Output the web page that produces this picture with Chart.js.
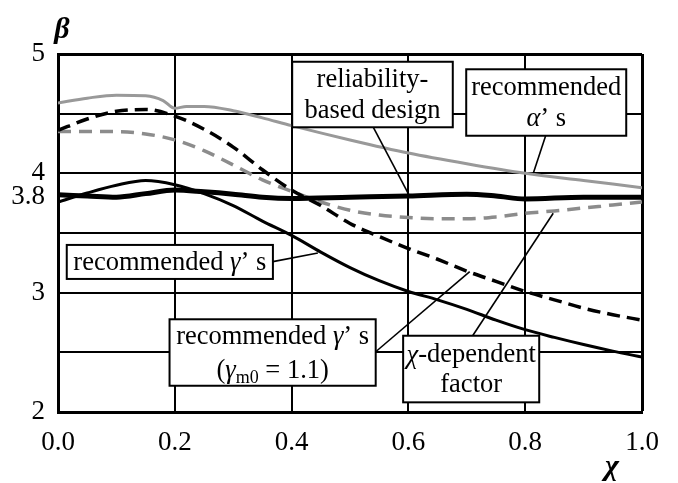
<!DOCTYPE html>
<html>
<head>
<meta charset="utf-8">
<script src="https://cdn.jsdelivr.net/npm/chart.js@4"></script>
<style>
  body { margin: 0; background: #fff; }
  canvas { display: block; }
</style>
</head>
<body>
<canvas id="chart" width="678" height="483"></canvas>
<script>
// x positions (chi) shared by most curves
const chiSteps = [0, 0.05, 0.1, 0.15, 0.2, 0.25, 0.3, 0.35, 0.4, 0.45, 0.5,
  0.55, 0.6, 0.65, 0.7, 0.75, 0.8, 0.85, 0.9, 0.95, 1.0];

// reliability-based design (thick black)
const reliabilityX = [0, 0.05, 0.1, 0.15, 0.2, 0.25, 0.3, 0.35, 0.4, 0.5, 0.6, 0.7, 0.75, 0.8, 0.9, 1.0];
const reliabilityBeta = [3.82, 3.81, 3.80, 3.83, 3.86, 3.845, 3.825, 3.80, 3.79, 3.80, 3.81, 3.825, 3.81, 3.785, 3.80, 3.80];

// recommended gamma's (thin black)
const gammaBeta = [3.76, 3.835, 3.90, 3.94, 3.905, 3.83, 3.73, 3.60, 3.48, 3.34, 3.21,
  3.10, 3.01, 2.94, 2.86, 2.77, 2.69, 2.625, 2.565, 2.51, 2.46];

// recommended gamma's with gamma_m0 = 1.1 (black dashed)
const gamma11Beta = [4.36, 4.455, 4.52, 4.535, 4.48, 4.37, 4.22, 4.03, 3.86, 3.73, 3.58,
  3.47, 3.37, 3.28, 3.18, 3.095, 3.01, 2.94, 2.87, 2.815, 2.77];

// chi-dependent factor (grey dashed)
const chiFactorBeta = [4.35, 4.35, 4.35, 4.33, 4.28, 4.19, 4.07, 3.945, 3.85, 3.76, 3.69,
  3.65, 3.63, 3.62, 3.62, 3.635, 3.665, 3.685, 3.71, 3.735, 3.76];

// recommended alpha's (grey solid)
const alphaX = [0, 0.05, 0.1, 0.15, 0.18, 0.2, 0.22, 0.25, 0.3, 0.35, 0.4, 0.5, 0.6, 0.7, 0.8, 0.9, 1.0];
const alphaBeta = [4.59, 4.63, 4.655, 4.65, 4.61, 4.545, 4.56, 4.56, 4.525, 4.465, 4.40, 4.28, 4.17, 4.08, 4.0, 3.94, 3.88];

// axis ticks
const yTicks = [2, 2.5, 3, 3.5, 3.8, 4, 4.5, 5];
const yLabels = [2, 3, 3.8, 4, 5];

const FONT = '"Liberation Serif", "Times New Roman", serif';
const TEXT_SIZE = 26.5;

function pts(xs, ys) {
  return xs.map((x, i) => ({ x: x, y: ys[i] }));
}

// callout boxes, in data units: box [x1, yTop, x2, yBottom], pointer from -> to
const notes = [
  {
    box: [0.401, 4.935, 0.676, 4.386],
    lines: [[{ t: "reliability-" }], [{ t: "based design" }]],
    from: [0.54, 4.386], to: [0.603, 3.80],
  },
  {
    box: [0.699, 4.872, 0.973, 4.315],
    lines: [[{ t: "recommended" }], [{ t: "α", i: true }, { t: "’ s" }]],
    from: [0.835, 4.315], to: [0.814, 4.003],
  },
  {
    box: [0.015, 3.40, 0.368, 3.115],
    lines: [[{ t: "recommended " }, { t: "γ", i: true }, { t: "’ s" }]],
    from: [0.368, 3.26], to: [0.445, 3.332],
  },
  {
    box: [0.191, 2.777, 0.544, 2.22],
    lines: [
      [{ t: "recommended " }, { t: "γ", i: true }, { t: "’ s" }],
      [{ t: "(" }, { t: "γ", i: true }, { t: "m0", s: 18, dy: 7 }, { t: " = 1.1)" }],
    ],
    gap: 34,
    from: [0.544, 2.505], to: [0.705, 3.176],
  },
  {
    box: [0.591, 2.639, 0.824, 2.081],
    lines: [[{ t: "χ", i: true }, { t: "-dependent" }], [{ t: "factor" }]],
    gap: 30,
    from: [0.71, 2.639], to: [0.848, 3.665],
  },
];

function fontOf(p) {
  return (p.i ? "italic " : "") + (p.s || TEXT_SIZE) + "px " + FONT;
}

function drawRich(ctx, parts, cx, cy) {
  let w = 0;
  parts.forEach((p) => {
    ctx.font = fontOf(p);
    p.w = ctx.measureText(p.t).width;
    w += p.w;
  });
  let x = cx - w / 2;
  parts.forEach((p) => {
    ctx.font = fontOf(p);
    ctx.fillText(p.t, x, cy + (p.dy || 0));
    x += p.w;
  });
}

const calloutPlugin = {
  id: "callouts",
  afterDatasetsDraw(chart) {
    const ctx = chart.ctx;
    const xs = chart.scales.x;
    const ys = chart.scales.y;
    ctx.save();
    ctx.fillStyle = "#000";
    ctx.strokeStyle = "#000";
    ctx.textAlign = "left";
    ctx.textBaseline = "middle";

    notes.forEach((n) => {
      // pointer line
      ctx.lineWidth = 1.6;
      ctx.beginPath();
      ctx.moveTo(xs.getPixelForValue(n.from[0]), ys.getPixelForValue(n.from[1]));
      ctx.lineTo(xs.getPixelForValue(n.to[0]), ys.getPixelForValue(n.to[1]));
      ctx.stroke();

      // box
      const x1 = xs.getPixelForValue(n.box[0]);
      const y1 = ys.getPixelForValue(n.box[1]);
      const x2 = xs.getPixelForValue(n.box[2]);
      const y2 = ys.getPixelForValue(n.box[3]);
      ctx.fillStyle = "#fff";
      ctx.fillRect(x1, y1, x2 - x1, y2 - y1);
      ctx.lineWidth = 2;
      ctx.strokeRect(x1, y1, x2 - x1, y2 - y1);

      // text
      ctx.fillStyle = "#000";
      const gap = n.gap || 31;
      const cx = (x1 + x2) / 2;
      const cy = (y1 + y2) / 2 + 1.5;
      const top = cy - (gap * (n.lines.length - 1)) / 2;
      n.lines.forEach((line, k) => drawRich(ctx, line, cx, top + k * gap));
    });

    // axis symbols
    ctx.font = "italic bold 30px " + FONT;
    ctx.textAlign = "center";
    ctx.fillText("β", 62, 30);
    ctx.fillText("χ", 612, 467);
    ctx.restore();
  },
};

new Chart(document.getElementById("chart"), {
  type: "line",
  data: {
    datasets: [
      {
        label: "reliability-based design",
        data: pts(reliabilityX, reliabilityBeta),
        borderColor: "#000",
        borderWidth: 5,
      },
      {
        label: "recommended γ's",
        data: pts(chiSteps, gammaBeta),
        borderColor: "#000",
        borderWidth: 3,
      },
      {
        label: "recommended γ's (γm0 = 1.1)",
        data: pts(chiSteps, gamma11Beta),
        borderColor: "#000",
        borderWidth: 3.5,
        borderDash: [13, 7],
      },
      {
        label: "χ-dependent factor",
        data: pts(chiSteps, chiFactorBeta),
        borderColor: "#8c8c8c",
        borderWidth: 3.5,
        borderDash: [13, 8],
      },
      {
        label: "recommended α's",
        data: pts(alphaX, alphaBeta),
        borderColor: "#999",
        borderWidth: 3,
      },
    ],
  },
  options: {
    responsive: false,
    animation: false,
    devicePixelRatio: 1,
    layout: { padding: { top: 54, right: 36, left: 0, bottom: 0 } },
    elements: {
      point: { radius: 0 },
      line: { cubicInterpolationMode: "monotone", fill: false },
    },
    plugins: {
      legend: { display: false },
      tooltip: { enabled: false },
    },
    scales: {
      x: {
        type: "linear",
        min: 0,
        max: 1,
        afterFit(scale) {
          scale.height = 71;
        },
        ticks: {
          stepSize: 0.2,
          padding: 15,
          color: "#000",
          font: { family: FONT, size: 27 },
          callback: (v) => v.toFixed(1),
        },
        grid: {
          drawTicks: false,
          color: "#000",
          lineWidth: (ctx) => (ctx.tick && ctx.tick.value > 0.99 ? 3 : 2),
        },
        border: { color: "#000", width: 3 },
      },
      y: {
        type: "linear",
        min: 2,
        max: 5,
        afterFit(scale) {
          scale.width = 58;
        },
        afterBuildTicks(scale) {
          scale.ticks = yTicks.map((v) => ({ value: v }));
        },
        ticks: {
          padding: 13,
          color: "#000",
          font: { family: FONT, size: 27 },
          callback: (v) => (yLabels.includes(v) ? String(v) : ""),
        },
        grid: {
          drawTicks: false,
          color: (ctx) => (ctx.tick && ctx.tick.value === 3.8 ? "rgba(0,0,0,0)" : "#000"),
          lineWidth: (ctx) => (ctx.tick && ctx.tick.value === 5 ? 3 : 2),
        },
        border: { color: "#000", width: 3 },
      },
    },
  },
  plugins: [calloutPlugin],
});
</script>
</body>
</html>
